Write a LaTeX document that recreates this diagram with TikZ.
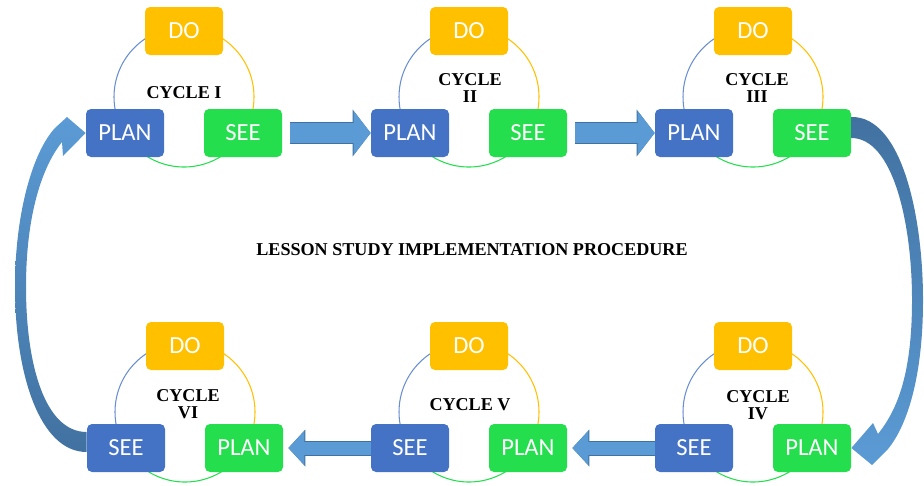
\documentclass[tikz,border=0pt]{standalone}
\usepackage{fontspec}
\setmainfont{Liberation Serif}
\newfontfamily\boxfont{Carlito}
\usetikzlibrary{arrows.meta}
\definecolor{planblue}{RGB}{68,114,196}
\definecolor{seegreen}{RGB}{36,222,78}
\definecolor{doyellow}{RGB}{255,192,0}
\definecolor{flow}{RGB}{91,155,213}
\definecolor{flowdark}{RGB}{65,113,160}

\begin{document}
\begin{tikzpicture}[x=0.2mm, y=0.2mm,
  stepbox/.style={rounded corners=1mm, minimum width=15.6mm, minimum height=9.6mm, inner sep=0pt,
    text=white, font=\boxfont\fontsize{14}{16}\selectfont},
  dobox/.style={stepbox, fill=doyellow},
  leftbox/.style={stepbox, fill=planblue},
  rightbox/.style={stepbox, fill=seegreen},
  cyclelabel/.style={align=center, font=\bfseries\fontsize{10.3}{10}\selectfont},
  leftarc/.style={draw=planblue!80, line width=0.6pt},
  rightarc/.style={draw=doyellow, line width=0.6pt},
  lowarc/.style={draw=seegreen, line width=0.6pt},
  bigflow/.style={draw=flow, line width=4mm, -{Triangle[length=3.4mm, width=8.6mm]},
    preaction={draw=flowdark, line width=4.4mm, -{Triangle[length=3.6mm, width=9.2mm]}}},
  smallflow/.style={draw=flow, line width=2.6mm, -{Triangle[length=3.2mm, width=6.6mm]},
    preaction={draw=flowdark, line width=3mm, -{Triangle[length=3.4mm, width=7.2mm]}}}]
  \useasboundingbox (0,0) rectangle (924,485);

  % ring centres
  \coordinate (c1) at (184,388);
  \coordinate (c2) at (469,388);
  \coordinate (c3) at (753,388);
  \coordinate (c4) at (753,73);
  \coordinate (c5) at (469,73);
  \coordinate (c6) at (185,73);

  % rings, split in three colours
  \draw[leftarc] (c1) ++(90:70) arc[start angle=90, end angle=210, radius=70];
  \draw[rightarc] (c1) ++(90:70) arc[start angle=90, end angle=-30, radius=70];
  \draw[lowarc] (c1) ++(-30:70) arc[start angle=-30, end angle=-150, radius=70];
  \draw[leftarc] (c2) ++(90:70) arc[start angle=90, end angle=210, radius=70];
  \draw[rightarc] (c2) ++(90:70) arc[start angle=90, end angle=-30, radius=70];
  \draw[lowarc] (c2) ++(-30:70) arc[start angle=-30, end angle=-150, radius=70];
  \draw[leftarc] (c3) ++(90:70) arc[start angle=90, end angle=210, radius=70];
  \draw[rightarc] (c3) ++(90:70) arc[start angle=90, end angle=-30, radius=70];
  \draw[lowarc] (c3) ++(-30:70) arc[start angle=-30, end angle=-150, radius=70];
  \draw[leftarc] (c4) ++(90:70) arc[start angle=90, end angle=210, radius=70];
  \draw[rightarc] (c4) ++(90:70) arc[start angle=90, end angle=-30, radius=70];
  \draw[lowarc] (c4) ++(-30:70) arc[start angle=-30, end angle=-150, radius=70];
  \draw[leftarc] (c5) ++(90:70) arc[start angle=90, end angle=210, radius=70];
  \draw[rightarc] (c5) ++(90:70) arc[start angle=90, end angle=-30, radius=70];
  \draw[lowarc] (c5) ++(-30:70) arc[start angle=-30, end angle=-150, radius=70];
  \draw[leftarc] (c6) ++(90:70) arc[start angle=90, end angle=210, radius=70];
  \draw[rightarc] (c6) ++(90:70) arc[start angle=90, end angle=-30, radius=70];
  \draw[lowarc] (c6) ++(-30:70) arc[start angle=-30, end angle=-150, radius=70];

  % top row: cycles I to III
  \node[dobox] (do1) at (184,454) {DO};
  \node[leftbox] (plan1) at (125,352) {PLAN};
  \node[rightbox] (see1) at (243,352) {SEE};
  \node[cyclelabel] (cyc1) at (184,392) {CYCLE I};

  \node[dobox] (do2) at (469,454) {DO};
  \node[leftbox] (plan2) at (410,352) {PLAN};
  \node[rightbox] (see2) at (528,352) {SEE};
  \node[cyclelabel] (cyc2) at (470,397) {CYCLE\\II};

  \node[dobox] (do3) at (753,454) {DO};
  \node[leftbox] (plan3) at (694,352) {PLAN};
  \node[rightbox] (see3) at (812,352) {SEE};
  \node[cyclelabel] (cyc3) at (757,397) {CYCLE\\III};

  % bottom row: cycles IV to VI
  \node[dobox] (do4) at (753,139) {DO};
  \node[leftbox] (see4) at (694,37) {SEE};
  \node[rightbox] (plan4) at (812,37) {PLAN};
  \node[cyclelabel] (cyc4) at (758,80) {CYCLE\\IV};

  \node[dobox] (do5) at (469,139) {DO};
  \node[leftbox] (see5) at (410,37) {SEE};
  \node[rightbox] (plan5) at (528,37) {PLAN};
  \node[cyclelabel] (cyc5) at (470,80) {CYCLE V};

  \node[dobox] (do6) at (185,139) {DO};
  \node[leftbox] (see6) at (126,37) {SEE};
  \node[rightbox] (plan6) at (244,37) {PLAN};
  \node[cyclelabel] (cyc6) at (188,81) {CYCLE\\VI};

  \node[cyclelabel] (title) at (472,235) {LESSON STUDY IMPLEMENTATION PROCEDURE};

  % straight arrows between the cycles
  \draw[bigflow, shorten <=1.6mm] (see1.east) -- (plan2.west);
  \draw[bigflow, shorten <=1.6mm] (see2.east) -- (plan3.west);
  \draw[smallflow, shorten >=1mm] (see4.west) -- (plan5.east);
  \draw[smallflow, shorten >=1mm] (see5.west) -- (plan6.east);

  % curved arrow down the right side (III -> IV)
  \path[top color=flowdark, bottom color=flow]
    ([yshift=3.2mm]see3.east) .. controls (902,369) and (923,268) .. (923,185)
    .. controls (923,105) and (906,58) .. (888,36)
    -- (872,20) -- (plan4.east) -- (873,62) -- (878,51)
    .. controls (897,75) and (912,110) .. (912,185)
    .. controls (912,262) and (893,347) .. ([yshift=-1mm]see3.east) -- cycle;

  % curved arrow up the left side (VI -> I)
  \path[top color=flow, bottom color=flowdark]
    ([yshift=-0.8mm]see6.west) .. controls (40,33) and (15,110) .. (15,198)
    .. controls (15,270) and (32,332) .. (55,357)
    -- (67,368) -- (plan1.west) -- (63,329) -- (62,343)
    .. controls (42,318) and (26,270) .. (26,198)
    .. controls (26,120) and (45,53) .. ([yshift=3.2mm]see6.west) -- cycle;
\end{tikzpicture}
\end{document}
